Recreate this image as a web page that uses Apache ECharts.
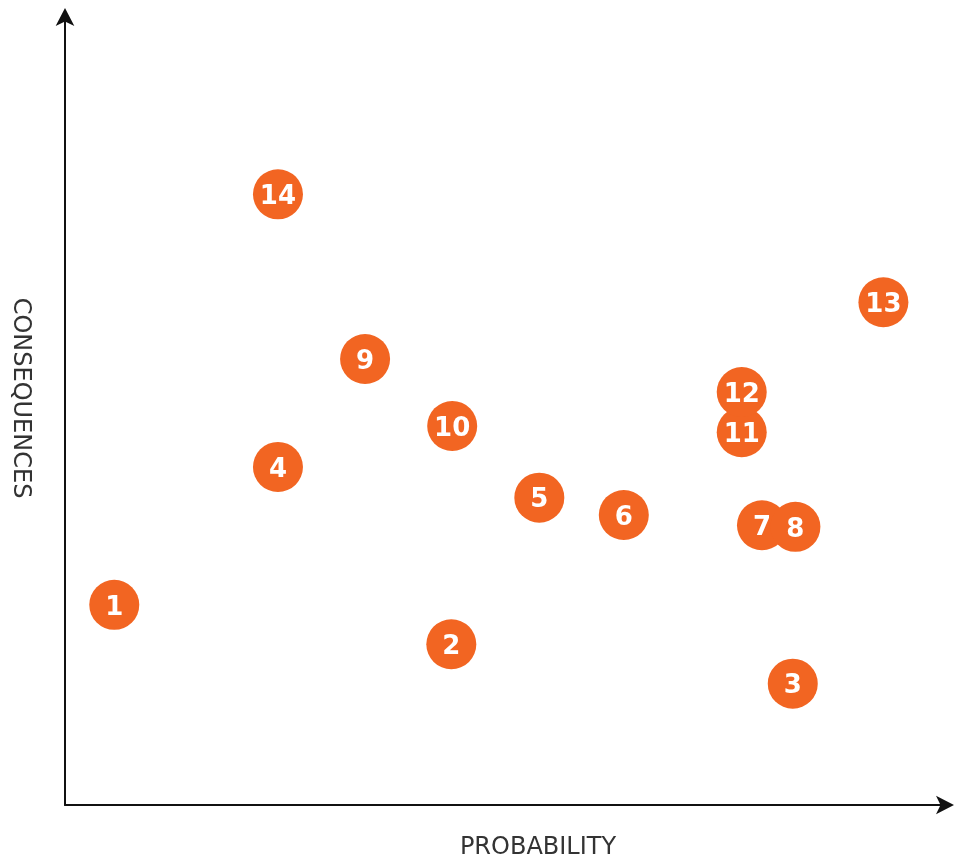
<!DOCTYPE html>
<html>
<head>
<meta charset="utf-8">
<script src="https://cdn.jsdelivr.net/npm/echarts@6/dist/echarts.min.js"></script>
<style>html,body{margin:0;padding:0;background:#fff}#c{width:954px;height:859px}</style>
</head>
<body>
<div id="c"></div>
<script>
const labels = ['1','2','3','4','5','6','7','8','9','10','11','12','13','14'];
const probability = [5.6, 43.9, 82.7, 24.2, 53.9, 63.5, 79.2, 83.0, 34.1, 44.0, 76.9, 76.9, 93.0, 24.2];
const consequences = [25.4, 20.4, 15.4, 42.9, 39.0, 36.8, 35.5, 35.3, 56.6, 48.1, 47.3, 52.4, 63.8, 77.5];

const data = labels.map((l, i) => ({ name: l, value: [probability[i], consequences[i]] }));

const chart = echarts.init(document.getElementById('c'));
chart.setOption({
  animation: false,
  grid: { left: 65, right: 9, top: 17, bottom: 54, outerBoundsMode: 'none', containLabel: false },
  xAxis: {
    type: 'value', min: 0, max: 100,
    name: 'PROBABILITY', nameLocation: 'middle', nameGap: 31,
    nameTextStyle: { color: '#333', fontSize: 24, fontFamily: 'DejaVu Sans', padding: [0, 0, 0, 66] },
    axisLine: { lineStyle: { color: '#111', width: 2 }, symbol: ['none', 'arrow'], symbolSize: [14, 18], symbolOffset: [0, 9] },
    axisTick: { show: false }, axisLabel: { show: false }, splitLine: { show: false }
  },
  yAxis: {
    type: 'value', min: 0, max: 100,
    name: 'CONSEQUENCES', nameLocation: 'middle', nameGap: 33, nameRotate: -90,
    nameTextStyle: { color: '#333', fontSize: 24, fontFamily: 'DejaVu Sans', padding: [0, 26, 0, 0] },
    axisLine: { lineStyle: { color: '#111', width: 2 }, symbol: ['none', 'arrow'], symbolSize: [14, 18], symbolOffset: [0, 9] },
    axisTick: { show: false }, axisLabel: { show: false }, splitLine: { show: false }
  },
  series: [{
    type: 'scatter',
    symbolSize: 50,
    itemStyle: { color: '#F26522', opacity: 1 },
    label: {
      show: true, position: 'inside', formatter: '{b}', offset: [0, 3],
      color: '#fff', fontSize: 26, fontWeight: 'bold', fontFamily: 'DejaVu Sans'
    },
    emphasis: { disabled: true },
    data: data
  }]
});
</script>
</body>
</html>
